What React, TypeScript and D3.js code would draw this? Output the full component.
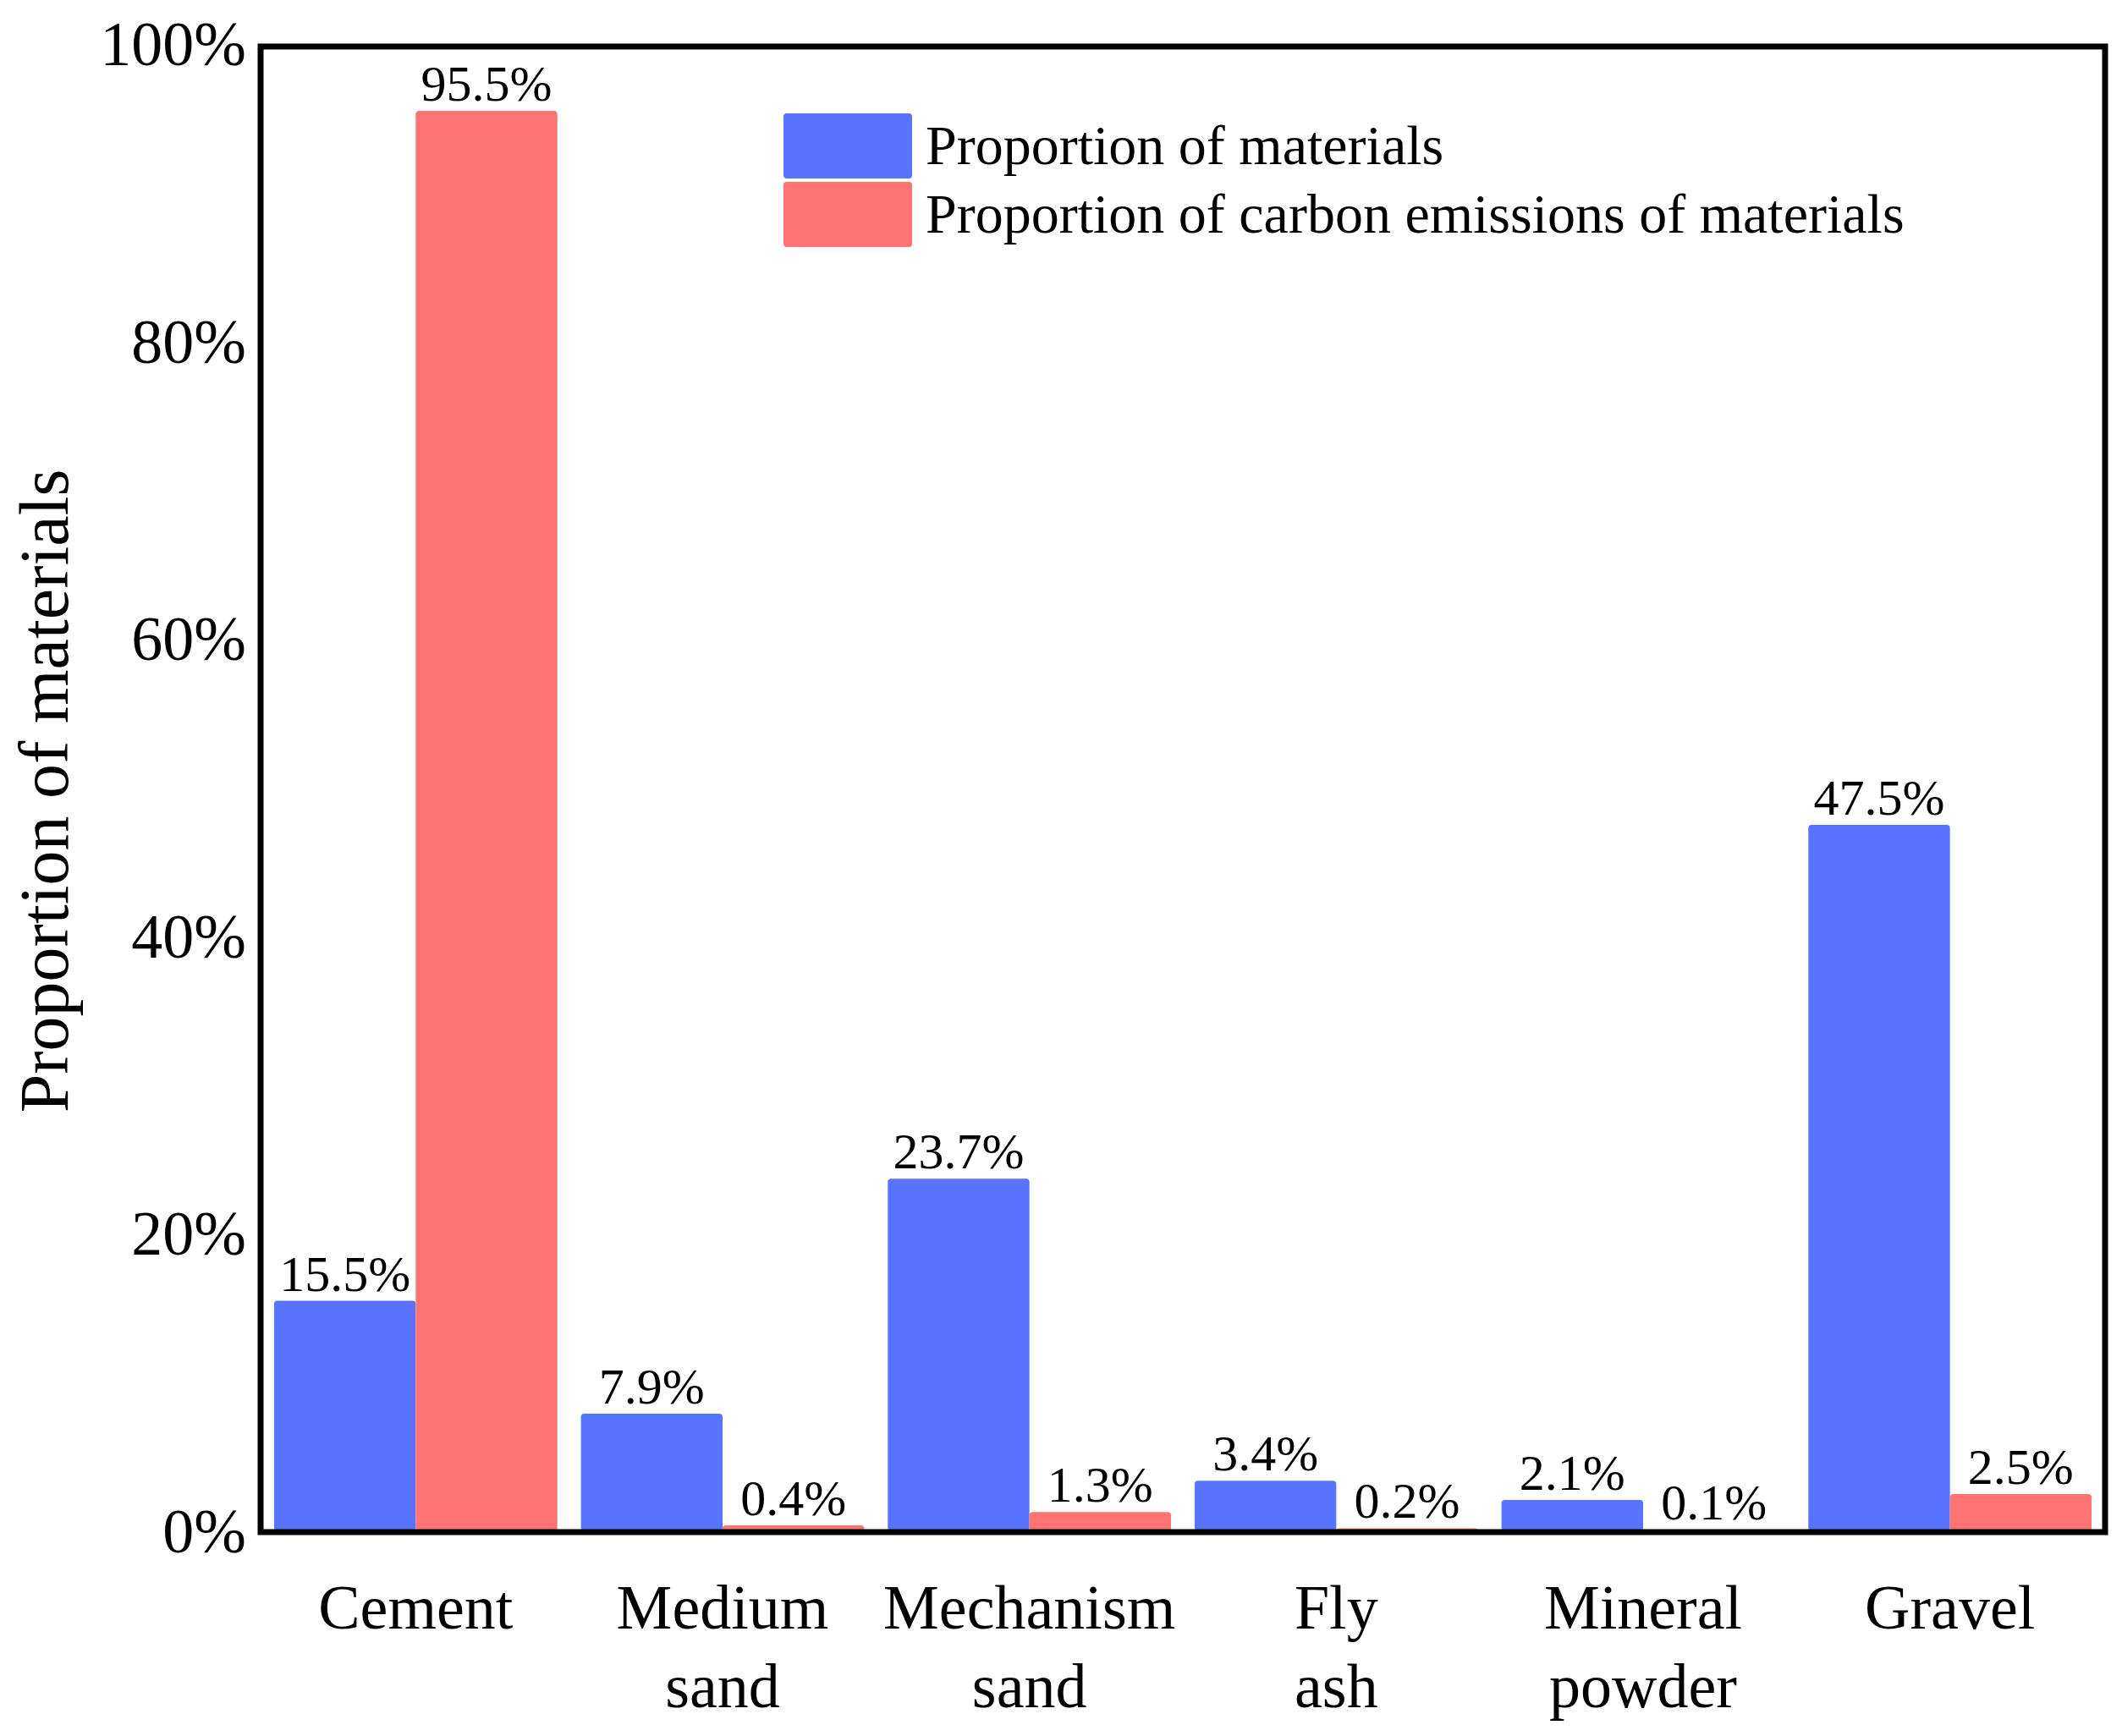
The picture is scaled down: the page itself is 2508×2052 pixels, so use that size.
import React from 'react';
import * as d3 from 'd3';

// categories along the x axis (a space breaks the label into lines)
const categories = ['Cement', 'Medium sand', 'Mechanism sand', 'Fly ash', 'Mineral powder', 'Gravel'];
const seriesNames = ['Proportion of materials', 'Proportion of carbon emissions of materials'];
// percent values per category
const materialShare = [15.5, 7.9, 23.7, 3.4, 2.1, 47.5];
const carbonShare = [95.5, 0.4, 1.3, 0.2, 0.1, 2.5];
const yTicks = [0, 20, 40, 60, 80, 100];

const W = 2508;
const H = 2052;
const frame = { left: 308, right: 2488, top: 55, bottom: 1811 };
const colors = ['#5773FF', '#FF7373'];
const font = '"Liberation Serif", "Times New Roman", serif';

const App: React.FC = () => {
	const x0 = d3
		.scaleBand<string>()
		.domain(categories)
		.range([frame.left, frame.right])
		.paddingInner(0.077)
		.paddingOuter(0.044);

	const x1 = d3.scaleBand<number>().domain([0, 1]).range([0, x0.bandwidth()]).padding(0);

	const y = d3.scaleLinear().domain([0, 100]).range([1810, 52]);

	const series = [materialShare, carbonShare];

	return (
		<div style={{ position: 'absolute', left: 0, top: 0 }}>
			<svg width={W} height={H} style={{ display: 'block', background: '#fff' }}>
				{/* bars */}
				{categories.map((c, i) => (
					<g key={c} transform={`translate(${x0(c)},0)`}>
						{series.map((s, k) => (
							<g key={k}>
								<rect
									x={x1(k)}
									y={y(s[i])}
									width={x1.bandwidth()}
									height={y(0) - y(s[i])}
									rx={4}
									fill={colors[k]}
								/>
								<text
									x={(x1(k) as number) + x1.bandwidth() / 2}
									y={y(s[i]) - 12}
									textAnchor="middle"
									fontFamily={font}
									fontSize={60}
									fill="#000"
								>
									{`${s[i].toFixed(1)}%`}
								</text>
							</g>
						))}
					</g>
				))}

				{/* frame */}
				<rect
					x={frame.left}
					y={frame.top}
					width={frame.right - frame.left}
					height={frame.bottom - frame.top}
					fill="none"
					stroke="#000"
					strokeWidth={7}
				/>

				{/* y tick labels */}
				{yTicks.map((t) => (
					<text
						key={t}
						x={291}
						y={y(t) + 25}
						textAnchor="end"
						fontFamily={font}
						fontSize={74}
						fill="#000"
					>
						{`${t}%`}
					</text>
				))}

				{/* category labels */}
				{categories.map((c) => (
					<text
						key={c}
						x={(x0(c) as number) + x0.bandwidth() / 2}
						y={1925}
						textAnchor="middle"
						fontFamily={font}
						fontSize={74}
						fill="#000"
					>
						{c.split(' ').map((line, j) => (
							<tspan key={j} x={(x0(c) as number) + x0.bandwidth() / 2} dy={j === 0 ? 0 : 93}>
								{line}
							</tspan>
						))}
					</text>
				))}

				{/* y axis title */}
				<text
					transform="translate(80,935) rotate(-90)"
					textAnchor="middle"
					fontFamily={font}
					fontSize={82}
					fill="#000"
				>
					Proportion of materials
				</text>

				{/* legend */}
				{seriesNames.map((name, k) => (
					<g key={name} transform={`translate(926,${134 + k * 81})`}>
						<rect width={152} height={77} rx={4} fill={colors[k]} />
						<text x={168} y={60} fontFamily={font} fontSize={66} fill="#000">
							{name}
						</text>
					</g>
				))}
			</svg>
		</div>
	);
};

export default App;
